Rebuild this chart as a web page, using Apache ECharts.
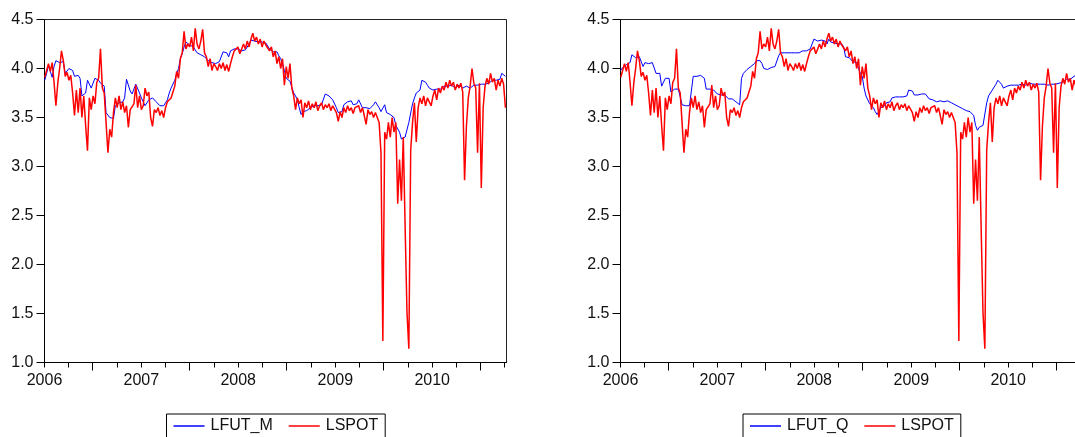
<!DOCTYPE html>
<html>
<head>
<meta charset="utf-8">
<script src="https://cdn.jsdelivr.net/npm/echarts@6/dist/echarts.min.js"></script>
<style>
  html, body { margin: 0; padding: 0; background: #fff; }
  #main { width: 1075px; height: 437px; }
</style>
</head>
<body>
<div id="main"></div>
<script>
// weekly observations, first one on Mon 2 Jan 2006
var weekStart = [2006, 0, 2];

var spot2006 = [3.91,3.98,4.05,3.97,4.06,3.86,3.62,3.85,4.0,4.18, 4.08,3.92,3.96,3.88,3.93,3.75,3.52,3.78,3.55,3.8,
  3.5,3.72,3.42,3.16,3.7,3.58,3.72,3.64,3.86,3.9, 4.2,3.8,3.75,3.45,3.14,3.38,3.3,3.55,3.7,3.6,
  3.72,3.58,3.66,3.55,3.62,3.4,3.58,3.6,3.64,3.83, 3.6,3.72];
var spot2007 = [3.58,3.62,3.8,3.72,3.76,3.5,3.41,3.58,3.55,3.6, 3.52,3.57,3.5,3.6,3.66,3.64,3.7,3.76,3.82,3.97,
  3.9,4.1,4.16,4.38,4.2,4.25,4.22,4.32,4.18,4.41, 4.25,4.2,4.28,4.4,4.16,4.12,4.02,4.1,3.98,4.05,
  4.02,3.98,4.05,4.0,4.06,3.98,4.04,3.97,4.05,4.12, 4.18,4.2];
var spot2008 = [4.22,4.15,4.2,4.25,4.2,4.28,4.22,4.3,4.36,4.28, 4.32,4.25,4.3,4.22,4.28,4.24,4.26,4.18,4.22,4.12,
  4.18,4.05,4.12,4.0,4.1,3.83,4.02,3.9,4.05,3.8, 3.72,3.58,3.7,3.64,3.68,3.5,3.65,3.6,3.67,3.58,
  3.64,3.6,3.66,3.57,3.62,3.65,3.58,3.63,3.6,3.64, 3.57,3.62];
var spot2009 = [3.6,3.55,3.46,3.56,3.5,3.6,3.55,3.62,3.57,3.6, 3.54,3.6,3.58,3.62,3.55,3.6,3.52,3.43,3.58,3.53,
  3.56,3.5,3.55,3.5,3.45,3.14,1.22,3.35,3.28,3.45, 3.3,3.5,3.35,3.45,2.62,3.07,2.65,3.3,2.38,1.51,
  1.14,3.17,3.45,3.65,3.25,3.6,3.7,3.64,3.72,3.62, 3.7,3.66];
var spot2010 = [3.62,3.72,3.78,3.68,3.8,3.75,3.82,3.78,3.86,3.8, 3.88,3.82,3.86,3.78,3.84,3.8,3.85,3.76,2.86,3.41,
  3.7,3.82,4.0,3.85,3.8,3.14,3.85,2.78,3.6,3.82, 3.9,3.84,3.95,3.86,3.9,3.78,3.88,3.82,3.9,3.84, 3.6];

var futM2006 = [3.88,3.95,4.03,4.03,3.91,4.02,4.08,4.09,4.06,4.05, 4.07,3.95,3.96,4.0,4.01,3.98,3.92,3.91,3.93,3.9,
  3.72,3.73,3.75,3.88,3.87,3.8,3.8,3.9,3.91,3.88, 3.85,3.86,3.82,3.55,3.54,3.5,3.48,3.49,3.62,3.64,
  3.65,3.65,3.66,3.7,3.89,3.88,3.77,3.74,3.76,3.84, 3.83,3.75];
var futM2007 = [3.7,3.66,3.62,3.62,3.68,3.69,3.7,3.68,3.66,3.64, 3.62,3.6,3.62,3.64,3.68,3.75,3.8,3.82,3.88,3.95,
  4.0,4.1,4.15,4.22,4.27,4.26,4.24,4.25,4.22,4.2, 4.16,4.15,4.14,4.13,4.12,4.1,4.08,4.07,4.06,4.06,
  4.05,4.06,4.07,4.08,4.17,4.18,4.16,4.12,4.18,4.2, 4.2,4.19];
var futM2008 = [4.2,4.19,4.18,4.2,4.19,4.21,4.25,4.29,4.3,4.28, 4.29,4.27,4.26,4.27,4.25,4.26,4.24,4.2,4.18,4.17,
  4.16,4.17,4.13,4.1,4.05,3.98,3.9,3.88,3.87,3.85, 3.75,3.72,3.68,3.6,3.53,3.56,3.57,3.57,3.58,3.6,
  3.62,3.62,3.63,3.62,3.62,3.63,3.65,3.74,3.73,3.72, 3.73,3.68];
var futM2009 = [3.66,3.6,3.55,3.55,3.56,3.63,3.63,3.66,3.68,3.67, 3.63,3.62,3.64,3.68,3.66,3.6,3.6,3.6,3.62,3.59,
  3.6,3.63,3.66,3.67,3.6,3.56,3.57,3.63,3.55,3.53, 3.53,3.52,3.5,3.42,3.4,3.35,3.28,3.3,3.3,3.29,
  3.45,3.44,3.64,3.7,3.75,3.74,3.78,3.88,3.9,3.86, 3.83,3.8];
var futM2010 = [3.79,3.78,3.77,3.79,3.8,3.79,3.8,3.82,3.83,3.82, 3.84,3.83,3.82,3.8,3.82,3.83,3.81,3.8,3.8,3.82,
  3.81,3.8,3.82,3.83,3.84,3.83,3.82,3.84,3.85,3.84, 3.86,3.85,3.87,3.88,3.87,3.88,3.9,3.89,3.95,3.93, 3.92];

var futQ2006 = [3.98,4.01,4.03,4.04,4.05,4.06,4.14,4.12,4.11,4.11, 4.12,4.1,4.02,4.06,4.06,4.05,4.06,4.06,4.05,3.95,
  3.94,3.95,3.82,3.83,3.9,3.89,3.9,3.76,3.77,3.79, 3.8,3.79,3.78,3.63,3.64,3.62,3.61,3.62,3.61,3.92,
  3.93,3.92,3.92,3.93,3.91,3.9,3.79,3.8,3.79,3.79, 3.78,3.79];
var futQ2007 = [3.74,3.73,3.73,3.72,3.73,3.72,3.69,3.7,3.69,3.68, 3.66,3.64,3.63,3.9,3.95,3.97,3.99,4.0,4.02,4.02,
  4.05,4.08,4.1,4.08,4.05,4.0,3.98,3.99,4.0,4.01, 4.0,4.02,4.04,4.13,4.16,4.15,4.16,4.17,4.16,4.17,
  4.16,4.17,4.16,4.17,4.16,4.17,4.18,4.17,4.18,4.19, 4.2,4.2];
var futQ2008 = [4.3,4.3,4.28,4.3,4.29,4.3,4.28,4.25,4.3,4.27, 4.25,4.26,4.24,4.25,4.23,4.25,4.22,4.12,4.12,4.11,
  4.1,4.07,4.07,4.06,4.0,3.95,3.92,3.8,3.72,3.7, 3.64,3.62,3.6,3.56,3.53,3.54,3.6,3.61,3.62,3.65,
  3.66,3.66,3.7,3.71,3.71,3.71,3.71,3.72,3.71,3.71, 3.72,3.78];
var futQ2009 = [3.78,3.77,3.73,3.72,3.73,3.74,3.74,3.75,3.74,3.72, 3.69,3.69,3.68,3.67,3.66,3.65,3.67,3.67,3.66,3.66,
  3.67,3.66,3.65,3.66,3.63,3.62,3.61,3.6,3.59,3.57, 3.57,3.56,3.56,3.55,3.52,3.42,3.37,3.4,3.42,3.42,
  3.43,3.65,3.72,3.75,3.78,3.8,3.84,3.88,3.87,3.84, 3.8,3.81];
var futQ2010 = [3.82,3.83,3.83,3.82,3.83,3.84,3.83,3.84,3.84,3.84, 3.83,3.84,3.85,3.84,3.84,3.83,3.84,3.84,3.84,3.85,
  3.84,3.84,3.83,3.84,3.84,3.85,3.84,3.84,3.85,3.84, 3.86,3.88,3.89,3.9,3.89,3.9,3.92,3.93,3.94,3.93, 3.95];

var yearLabels = [2006, 2007, 2008, 2009, 2010];

var lspot = [].concat(spot2006, spot2007, spot2008, spot2009, spot2010);
var lfutM = [].concat(futM2006, futM2007, futM2008, futM2009, futM2010);
var lfutQ = [].concat(futQ2006, futQ2007, futQ2008, futQ2009, futQ2010);

function withDates(vals) {
  return vals.map(function (v, i) {
    var d = new Date(weekStart[0], weekStart[1], weekStart[2] + 7 * i);
    return [d.getTime(), v];
  });
}

var xMin = new Date(2006, 0, 1).getTime();
var xMax = new Date(2010, 9, 8).getTime();
var font = 'Liberation Sans, Arial, sans-serif';

var yearTicks = yearLabels.map(function (y) { return new Date(y, 0, 1).getTime(); });
var quarterTicks = [], julyTicks = [];
yearLabels.forEach(function (y) {
  [0, 3, 6, 9].forEach(function (m) {
    var t = new Date(y, m, 1).getTime();
    if (t <= xMax) quarterTicks.push(t);
  });
  julyTicks.push(new Date(y, 6, 1).getTime());
});

// numeric axis holding timestamps, ticks placed by hand on quarter / mid-year dates
function xAxes(g) {
  return [{
    type: 'value', gridIndex: g, min: xMin, max: xMax, position: 'bottom',
    axisLine: { lineStyle: { color: '#000', width: 1 } },
    axisTick: { customValues: quarterTicks, length: 5, lineStyle: { color: '#000' } },
    axisLabel: {
      customValues: yearTicks, margin: 10, color: '#111', fontSize: 16, fontFamily: font,
      formatter: function (v) { return String(new Date(v).getFullYear()); }
    },
    splitLine: { show: false }
  }, {
    type: 'value', gridIndex: g, min: xMin, max: xMax, position: 'bottom',
    axisLine: { show: false },
    axisTick: { customValues: julyTicks, length: 8, lineStyle: { color: '#000' } },
    axisLabel: { show: false },
    splitLine: { show: false }
  }];
}

function yAxis(g) {
  return {
    type: 'value', gridIndex: g, min: 1.0, max: 4.5, interval: 0.5,
    axisLine: { show: true, lineStyle: { color: '#000', width: 1 } },
    axisTick: { show: true, length: 8, lineStyle: { color: '#000' } },
    axisLabel: {
      margin: 11, color: '#111', fontSize: 16, fontFamily: font,
      formatter: function (v) { return v.toFixed(1); }
    },
    splitLine: { show: false }
  };
}

function legend(left, names) {
  return {
    left: left, top: 414, orient: 'horizontal',
    data: names.map(function (n) { return { name: n, icon: 'rect' }; }),
    itemWidth: 31, itemHeight: 1.5, itemGap: 16,
    padding: [4, 7, 4, 7],
    borderColor: '#000', borderWidth: 1, backgroundColor: '#fff',
    textStyle: { fontSize: 16, fontFamily: font, color: '#111', padding: [0, 0, 0, 1] },
    selectedMode: false
  };
}

function line(name, vals, color, width, xi, yi) {
  return {
    name: name, type: 'line', xAxisIndex: xi, yAxisIndex: yi,
    data: withDates(vals), symbol: 'none', showSymbol: false,
    lineStyle: { color: color, width: width }, itemStyle: { color: color },
    animation: false
  };
}

var chart = echarts.init(document.getElementById('main'));
chart.setOption({
  backgroundColor: '#fff',
  animation: false,
  grid: [
    { left: 44.5, top: 19.5, width: 462, height: 343, show: true, borderColor: '#222', borderWidth: 1,
      backgroundColor: 'transparent', containLabel: false, outerBoundsMode: 'none' },
    { left: 620.5, top: 19.5, width: 462, height: 343, show: true, borderColor: '#222', borderWidth: 1,
      backgroundColor: 'transparent', containLabel: false, outerBoundsMode: 'none' }
  ],
  xAxis: xAxes(0).concat(xAxes(1)),
  yAxis: [yAxis(0), yAxis(1)],
  legend: [legend(166.5, ['LFUT_M', 'LSPOT']), legend(743, ['LFUT_Q', 'LSPOT'])],
  series: [
    line('LFUT_M', lfutM, '#0000ff', 1, 0, 0),
    line('LSPOT', lspot, '#ff0000', 1.5, 0, 0),
    line('LFUT_Q', lfutQ, '#0000ff', 1, 2, 1),
    line('LSPOT', lspot, '#ff0000', 1.5, 2, 1)
  ]
});
</script>
</body>
</html>
